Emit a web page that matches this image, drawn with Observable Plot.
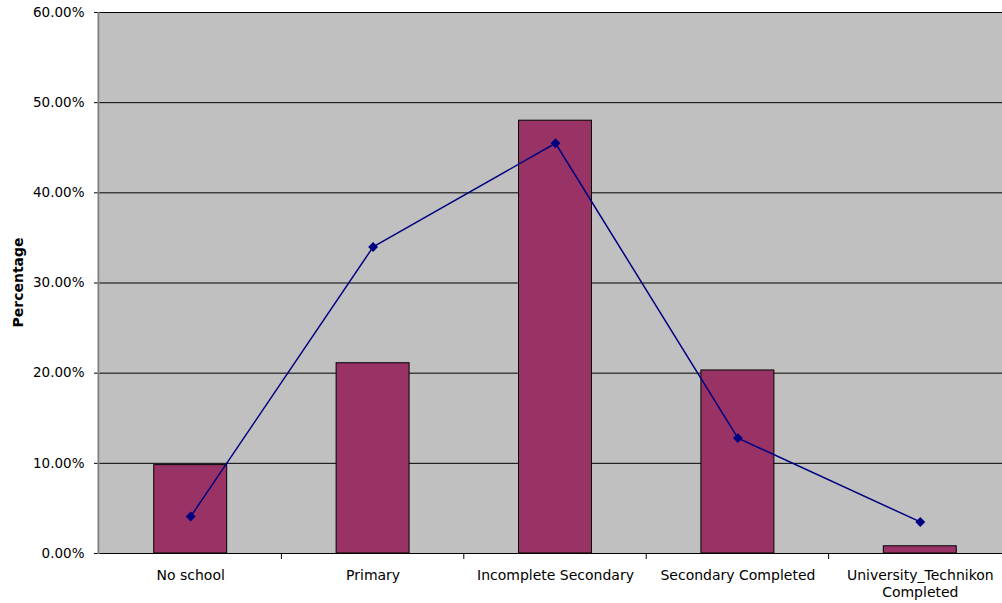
<!DOCTYPE html>
<html>
<head>
<meta charset="utf-8">
<script src="https://cdn.jsdelivr.net/npm/d3@7"></script>
<script src="https://cdn.jsdelivr.net/npm/@observablehq/plot@0.6"></script>
<style>
  html, body { margin: 0; padding: 0; background: #ffffff; overflow: hidden; }
  #chart { width: 1002px; height: 603px; overflow: hidden; }
  svg { display: block; }
</style>
</head>
<body>
<div id="chart"></div>
<script>
const categories = ["No school", "Primary", "Incomplete Secondary", "Secondary Completed", "University_Technikon Completed"];
const tickLabels = ["No school", "Primary", "Incomplete Secondary", "Secondary Completed", "University_Technikon\nCompleted"];
const barValues = [0.098, 0.211, 0.480, 0.203, 0.008];
const lineValues = [0.041, 0.340, 0.455, 0.128, 0.035];
const yTicks = [0, 0.1, 0.2, 0.3, 0.4, 0.5, 0.6];

const bars = categories.map((c, i) => ({cat: c, v: barValues[i]}));
const pts = categories.map((c, i) => ({cat: c, v: lineValues[i]}));

const font = "Verdana, 'DejaVu Sans', sans-serif";

const chart = Plot.plot({
  width: 1002,
  height: 603,
  marginLeft: 99,
  marginRight: -9,
  marginTop: 12,
  marginBottom: 50,
  style: {fontFamily: font, fontSize: "13.5px", color: "#000", background: "#fff", overflow: "hidden"},
  x: {type: "band", domain: categories, paddingInner: 0.6, paddingOuter: 0.3, align: 0.5, round: false, label: null},
  y: {domain: [0, 0.6], label: null},
  marks: [
    Plot.frame({fill: "#c0c0c0", stroke: "none"}),
    Plot.gridY(yTicks.slice(1), {stroke: "#000", strokeOpacity: 1, strokeWidth: 1}),
    Plot.barY(bars, {x: "cat", y: "v", fill: "#993366", stroke: "#000", strokeWidth: 1}),
    Plot.lineY(pts, {x: "cat", y: "v", stroke: "#000080", strokeWidth: 1.5}),
    Plot.dot(pts, {x: "cat", y: "v", symbol: "diamond2", fill: "#000080", stroke: "#000080", r: 3.5}),
    Plot.axisY({ticks: yTicks, tickFormat: d3.format(".2%"), tickSize: 5, tickPadding: 10, fontSize: 13.5, stroke: "#000"}),
    Plot.axisX({tickSize: 0, tickPadding: 14, fontSize: 14, lineHeight: 1.25, tickFormat: (d) => tickLabels[categories.indexOf(d)]}),
    Plot.ruleY([0], {stroke: "#000", strokeWidth: 1})
  ]
});

// left axis line and band-edge ticks derived from the x scale
const xs = chart.scale("x");
const ys = chart.scale("y");
const svg = d3.select(chart);
const step = xs.step;
const y0 = ys.apply(0);
const yTop = ys.apply(0.6);
const left = xs.range[0];
const edges = categories.map(c => xs.apply(c) + xs.bandwidth / 2 + step / 2);
svg.append("g").selectAll("line").data(edges).join("line")
  .attr("x1", d => d).attr("x2", d => d)
  .attr("y1", y0).attr("y2", y0 + 6)
  .attr("stroke", "#000");
svg.append("line")
  .attr("x1", left - 0.5).attr("x2", left - 0.5)
  .attr("y1", yTop).attr("y2", y0 + 1)
  .attr("stroke", "#808080").attr("stroke-width", 2);

// vertical axis title
svg.append("text")
  .attr("transform", `translate(23, ${(y0 + yTop) / 2}) rotate(-90)`)
  .attr("text-anchor", "middle")
  .attr("font-family", font)
  .attr("font-weight", "bold")
  .attr("font-size", 14)
  .text("Percentage");

document.getElementById("chart").appendChild(chart);
</script>
</body>
</html>
